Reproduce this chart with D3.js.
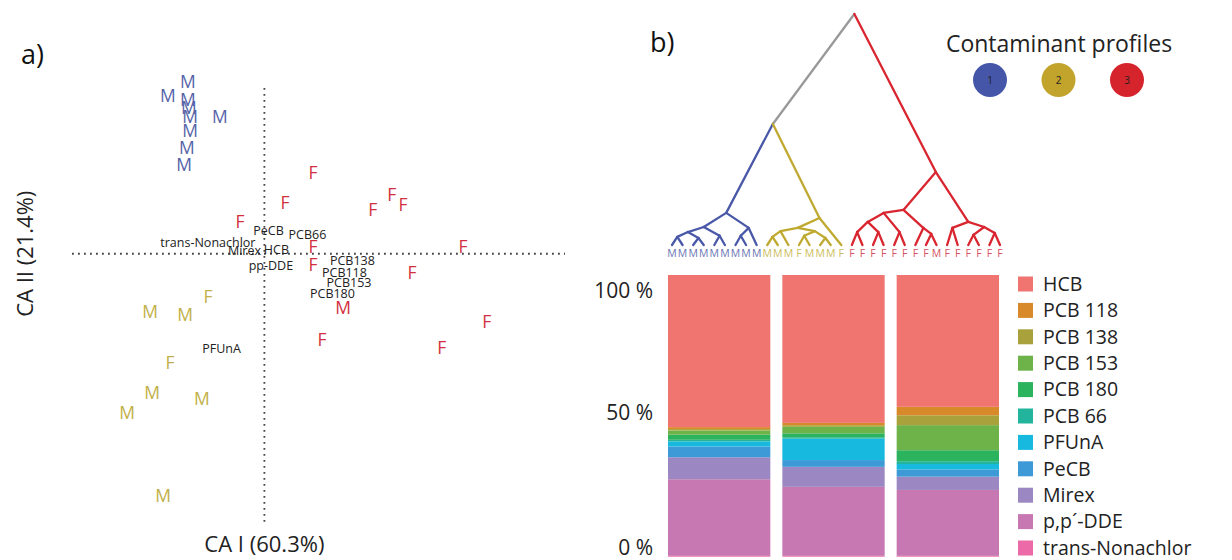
<!DOCTYPE html>
<html><head><meta charset="utf-8">
<script src="https://cdn.jsdelivr.net/npm/d3@7"></script>
<style>
html,body{margin:0;padding:0;background:#fff;}
svg{display:block;font-family:"Open Sans","Noto Sans",sans-serif;}
</style></head>
<body><svg id="c" width="1232" height="560"></svg>
<script>
// ---------- Panel a: correspondence analysis ----------
const caAxisLabels = ["CA I (60.3%)", "CA II (21.4%)"];
// samples: label, profile group, CA I, CA II
const sampleLabels = ["M","M","M","M","M","M","M","M","M",
                      "F","M","M","F","M","M","M","M",
                      "F","F","F","F","F","F","F","F","F","F","M","F","F","F"];
const sampleGroup  = [1,1,1,1,1,1,1,1,1, 2,2,2,2,2,2,2,2, 3,3,3,3,3,3,3,3,3,3,3,3,3,3];
const sampleCA1 = [-0.318,-0.401,-0.318,-0.314,-0.309,-0.185,-0.309,-0.322,-0.334,
                   -0.234,-0.475,-0.330,-0.392,-0.467,-0.571,-0.260,-0.421,
                   0.202,0.086,-0.101,0.451,0.530,0.576,0.202,0.826,0.202,0.614,0.327,0.925,0.240,0.738];
const sampleCA2 = [0.622,0.571,0.557,0.528,0.495,0.495,0.444,0.383,0.321,
                   -0.157,-0.211,-0.222,-0.396,-0.504,-0.576,-0.526,-0.877,
                   0.292,0.184,0.115,0.158,0.213,0.176,0.024,0.024,-0.041,-0.070,-0.196,-0.247,-0.312,-0.341];
// variables (contaminants)
const varLabels = ["PeCB","PCB66","trans-Nonachlor","Mirex","HCB","pp-DDE","PCB138","PCB118","PCB153","PCB180","PFUnA"];
const varCA1 = [0.017,0.179,-0.235,-0.083,0.050,0.027,0.366,0.333,0.352,0.283,-0.178];
const varCA2 = [0.082,0.071,0.039,0.010,0.014,-0.044,-0.026,-0.070,-0.106,-0.146,-0.345];

// ---------- Panel b: dendrogram ----------
const clusterBlue = {h:0.139, k:1, c:[
  {h:0.078, c:[ {h:0.056, c:[{h:0.035,c:["M","M"]},{h:0.030,c:["M","M"]}]}, {h:0.040,c:["M","M"]} ]},
  {h:0.074, c:[ {h:0.040,c:["M","M"]}, "M" ]}
]};
const clusterYellow = {h:0.117, k:2, c:[
  {h:0.074, c:[ {h:0.060,c:[{h:0.035,c:["M","M"]},"M"]}, {h:0.060,c:[{h:0.040,c:["F","M"]},{h:0.030,c:["M","M"]}]} ]},
  "F"
]};
const clusterRed = {h:0.316, k:3, c:[
  {h:0.152, c:[
     {h:0.139, c:[ {h:0.100,c:[{h:0.056,c:["F","F"]},{h:0.056,c:["F","F"]}]}, {h:0.056,c:["F","F"]} ]},
     {h:0.074, c:["F", {h:0.048,c:["F","M"]}]}
  ]},
  {h:0.100, c:[ {h:0.074,c:["F","F"]}, {h:0.078,c:[{h:0.044,c:["F","F"]},{h:0.052,c:["F","F"]}]} ]}
]};
const treeRoot = {h:1.0, k:0, c:[ {h:0.524, k:0, c:[clusterBlue, clusterYellow]}, clusterRed ]};
const profileNames = ["1","2","3"];

// ---------- Panel b: stacked bars ----------
const compounds = ["HCB","PCB 118","PCB 138","PCB 153","PCB 180","PCB 66","PFUnA","PeCB","Mirex","p,p´-DDE","trans-Nonachlor"];
const profile1 = [54.0,0.7,0.5,1.5,1.8,0.6,1.8,3.8,7.8,27.2,0.3];
const profile2 = [52.5,0.8,0.6,2.3,1.4,0.5,7.6,2.4,7.1,24.5,0.3];
const profile3 = [46.8,3.0,3.5,8.9,3.9,1.0,1.9,2.6,4.7,23.4,0.3];
const pctTicks = [0,50,100];

// ---------- styles ----------
const groupColor = {0:"#999999",1:"#4a58a8",2:"#bfa930",3:"#d9252f"};
const markColor = {1:"#5563a8",2:"#c2b048",3:"#d2303e"};
const leafColor = {1:"#6a76b4",2:"#cbbd5a",3:"#d7505e"};
const circleColor = ["#4556a8","#c2a32c","#d6242d"];
const compColor = ["#f07570","#d88a2a","#a9a23c","#6db34a","#2bb35e","#22b49c","#18b9de","#3d9ad6","#9b87c1","#c777b1","#ed6aa8"];

const svg = d3.select("#c");

// ===== Panel a =====
const x = d3.scaleLinear().domain([-0.8,1.25]).range([72,565]);
const y = d3.scaleLinear().domain([0.6,-1.0]).range([88,530]);
const ga = svg.append("g");
ga.append("line").attr("x1",x(-0.8)).attr("x2",x(1.25)).attr("y1",y(0)).attr("y2",y(0))
  .attr("stroke","#444").attr("stroke-width",1.8).attr("stroke-dasharray","1.8,4.2");
ga.append("line").attr("x1",x(0)).attr("x2",x(0)).attr("y1",y(0.6)).attr("y2",y(-0.98))
  .attr("stroke","#444").attr("stroke-width",1.8).attr("stroke-dasharray","1.8,4.2");

const samples = sampleLabels.map((l,i)=>({l, g:sampleGroup[i], a:sampleCA1[i], b:sampleCA2[i]}));
ga.selectAll("text.s").data(samples).join("text").attr("class","s")
  .attr("x",d=>x(d.a)).attr("y",d=>y(d.b)).attr("dy","0.36em")
  .attr("text-anchor","middle").attr("font-size",17.5).attr("fill",d=>markColor[d.g]).text(d=>d.l);

const vars = varLabels.map((l,i)=>({l, a:varCA1[i], b:varCA2[i]}));
ga.selectAll("text.v").data(vars).join("text").attr("class","v")
  .attr("x",d=>x(d.a)).attr("y",d=>y(d.b)).attr("dy","0.35em")
  .attr("text-anchor","middle").attr("font-size",12.5).attr("fill","#222").text(d=>d.l);

svg.append("text").attr("x",x(0)).attr("y",544).attr("dy","0.35em").attr("text-anchor","middle")
  .attr("font-size",22).attr("fill","#222").text(caAxisLabels[0]);
svg.append("text").attr("transform","translate(25,"+y(0)+") rotate(-90)").attr("dy","0.35em")
  .attr("text-anchor","middle").attr("font-size",22).attr("fill","#222").text(caAxisLabels[1]);
svg.append("text").attr("x",21).attr("y",55).attr("dy","0.35em").attr("font-size",27).attr("fill","#111").text("a)");
svg.append("text").attr("x",650).attr("y",43).attr("dy","0.35em").attr("font-size",27).attr("fill","#111").text("b)");

// ===== Dendrogram =====
const root = d3.hierarchy(treeRoot, d => typeof d === "string" ? null : d.c);
const leaves = root.leaves();
const lx = d3.scalePoint().domain(d3.range(leaves.length)).range([672,1000]);
const hy = d3.scaleLinear().domain([0,1]).range([245,14]);
leaves.forEach((n,i)=>{ n.px = lx(i); });
root.eachAfter(n=>{
  if(n.children) n.px = d3.mean(n.children, c=>c.px);
  n.py = hy(typeof n.data === "string" ? 0 : n.data.h);
});
root.each(n=>{
  const own = (typeof n.data !== "string" && n.data.k !== undefined) ? n.data.k : null;
  n.k = own !== null ? own : (n.parent ? n.parent.k : 0);
});
const gd = svg.append("g");
gd.selectAll("line").data(root.links()).join("line")
  .attr("x1",d=>d.source.px).attr("y1",d=>d.source.py)
  .attr("x2",d=>d.target.px).attr("y2",d=>d.target.py)
  .attr("stroke",d=>groupColor[d.target.k]).attr("stroke-width",2.3).attr("stroke-linecap","round");
gd.selectAll("text").data(leaves).join("text")
  .attr("x",d=>d.px).attr("y",253).attr("dy","0.35em").attr("text-anchor","middle")
  .attr("font-size",10.5).attr("fill",d=>leafColor[d.k]).text(d=>d.data);

// profile legend
svg.append("text").attr("x",1059).attr("y",44).attr("dy","0.35em").attr("text-anchor","middle")
  .attr("font-size",23).attr("fill","#222").text("Contaminant profiles");
const cx = d3.scalePoint().domain(profileNames).range([990,1127]);
const gl = svg.append("g");
gl.selectAll("circle").data(profileNames).join("circle")
  .attr("cx",d=>cx(d)).attr("cy",80).attr("r",17).attr("fill",(d,i)=>circleColor[i]);
gl.selectAll("text").data(profileNames).join("text")
  .attr("x",d=>cx(d)).attr("y",80).attr("dy","0.35em").attr("text-anchor","middle")
  .attr("font-size",10).attr("fill","#222").text(d=>d);

// ===== Stacked bars =====
const profiles = [profile1, profile2, profile3];
const rows = profiles.map((p,i)=>{ const o={profile:profileNames[i]}; compounds.forEach((c,j)=>o[c]=p[j]); return o; });
const keysBottomUp = compounds.slice().reverse();
const stack = d3.stack().keys(keysBottomUp)(rows);
const bx = d3.scaleBand().domain(profileNames).range([668,999]).paddingInner(0.105);
const by = d3.scaleLinear().domain([0,100]).range([556.7,275]);
const col = d3.scaleOrdinal().domain(compounds).range(compColor);
const gb = svg.append("g");
gb.selectAll("g").data(stack).join("g").attr("fill",d=>col(d.key))
  .selectAll("rect").data(d=>d).join("rect")
  .attr("x",d=>bx(d.data.profile)).attr("width",bx.bandwidth())
  .attr("y",d=>by(d[1])).attr("height",d=>by(d[0])-by(d[1]));

const yAxis = svg.append("g").attr("transform","translate(668,0)")
  .call(d3.axisLeft(by).tickValues(pctTicks).tickSize(0).tickPadding(15).tickFormat(d=>d+" %"));
yAxis.select(".domain").remove();
yAxis.selectAll("text").attr("font-size",21).attr("font-family","'Open Sans','Noto Sans',sans-serif")
  .attr("fill","#222").attr("dy",d=>d===100?"1.05em":(d===0?"-0.12em":"0.15em"));

// legend
const lg = svg.append("g");
const ly = d3.scalePoint().domain(compounds).range([284,548]);
lg.selectAll("rect").data(compounds).join("rect")
  .attr("x",1018).attr("y",d=>ly(d)-7.5).attr("width",15).attr("height",15).attr("fill",d=>col(d));
lg.selectAll("text").data(compounds).join("text")
  .attr("x",1043).attr("y",d=>ly(d)).attr("dy","0.35em").attr("font-size",19.5).attr("fill","#222").text(d=>d);
</script></body></html>
